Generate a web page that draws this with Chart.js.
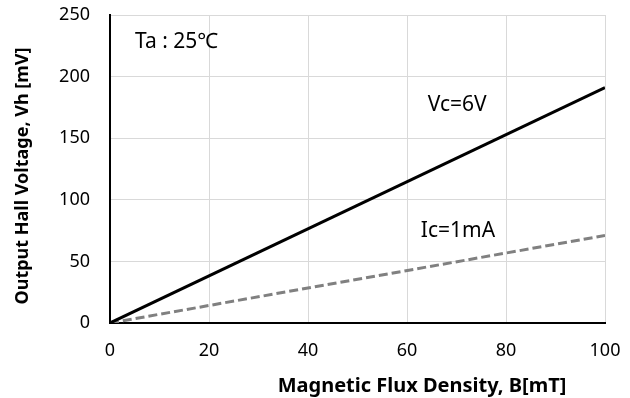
<!DOCTYPE html>
<html>
<head>
<meta charset="utf-8">
<script src="https://cdn.jsdelivr.net/npm/chart.js@4/dist/chart.umd.min.js"></script>
<style>
  body { margin: 0; background: #fff; }
  #wrap { width: 630px; height: 398px; }
</style>
</head>
<body>
<div id="wrap"><canvas id="chart1"></canvas></div>
<script>
var fluxB = [0, 100];
var vcLine = [0, 191];
var icLine = [0, 71];
var xTicks = [0, 20, 40, 60, 80, 100];
var yTicks = [0, 50, 100, 150, 200, 250];

var FONT = "'Noto Sans', sans-serif";

function pts(xs, ys) {
    return xs.map(function (x, i) { return { x: x, y: ys[i] }; });
}

// axis titles and notes drawn on top
var textPlugin = {
    id: 'texts',
    afterDraw: function (chart) {
        var ctx = chart.ctx;
        var xs = chart.scales.x, ys = chart.scales.y;
        ctx.save();
        ctx.fillStyle = '#000';
        ctx.font = '21px ' + FONT;
        ctx.textAlign = 'left';
        ctx.textBaseline = 'middle';
        ctx.fillText('Ta : 25\u2103', 135, 42);
        ctx.fillText('Vc=6V', xs.getPixelForValue(64.2), ys.getPixelForValue(177));
        ctx.fillText('Ic=1mA', xs.getPixelForValue(62.8), ys.getPixelForValue(74.5));

        ctx.font = 'bold 20px ' + FONT;
        ctx.textAlign = 'center';
        ctx.fillText('Magnetic Flux Density, B[mT]', 422, 386);
        ctx.font = 'bold 18px ' + FONT;
        ctx.translate(23, 176);
        ctx.rotate(-Math.PI / 2);
        ctx.fillText('Output Hall Voltage, Vh [mV]', 0, 0);
        ctx.restore();
    }
};

new Chart(document.getElementById("chart1"), {
    type: 'scatter',
    data: {
        datasets: [
            {
                label: 'Vc=6V',
                data: pts(fluxB, vcLine),
                showLine: true,
                borderColor: '#000000',
                borderWidth: 3,
                pointRadius: 0
            },
            {
                label: 'Ic=1mA',
                data: pts(fluxB, icLine),
                showLine: true,
                borderColor: '#808080',
                borderWidth: 3,
                borderDash: [9, 4],
                pointRadius: 0
            }
        ]
    },
    options: {
        responsive: true,
        maintainAspectRatio: false,
        animation: false,
        layout: { padding: { left: 0, top: 15, right: 25, bottom: 0 } },
        plugins: {
            legend: { display: false },
            tooltip: { enabled: false }
        },
        scales: {
            x: {
                type: 'linear',
                min: 0,
                max: 100,
                afterBuildTicks: function (s) { s.ticks = xTicks.map(function (v) { return { value: v }; }); },
                afterFit: function (s) {
                    s.height = 75;
                    s.paddingLeft = 0;
                    s.paddingRight = 0;
                },
                grid: { color: '#d9d9d9', lineWidth: 1, drawTicks: false },
                border: { color: '#000', width: 2 },
                ticks: { color: '#000', font: { family: FONT, size: 18 }, padding: 17, maxRotation: 0 }
            },
            y: {
                type: 'linear',
                min: 0,
                max: 250,
                afterBuildTicks: function (s) { s.ticks = yTicks.map(function (v) { return { value: v }; }); },
                afterFit: function (s) {
                    s.width = 110;
                    s.paddingTop = 0;
                    s.paddingBottom = 0;
                },
                grid: { color: '#d9d9d9', lineWidth: 1, drawTicks: false },
                border: { color: '#000', width: 2 },
                ticks: { color: '#000', font: { family: FONT, size: 18 }, padding: 20 }
            }
        }
    },
    plugins: [textPlugin]
});
</script>
</body>
</html>
